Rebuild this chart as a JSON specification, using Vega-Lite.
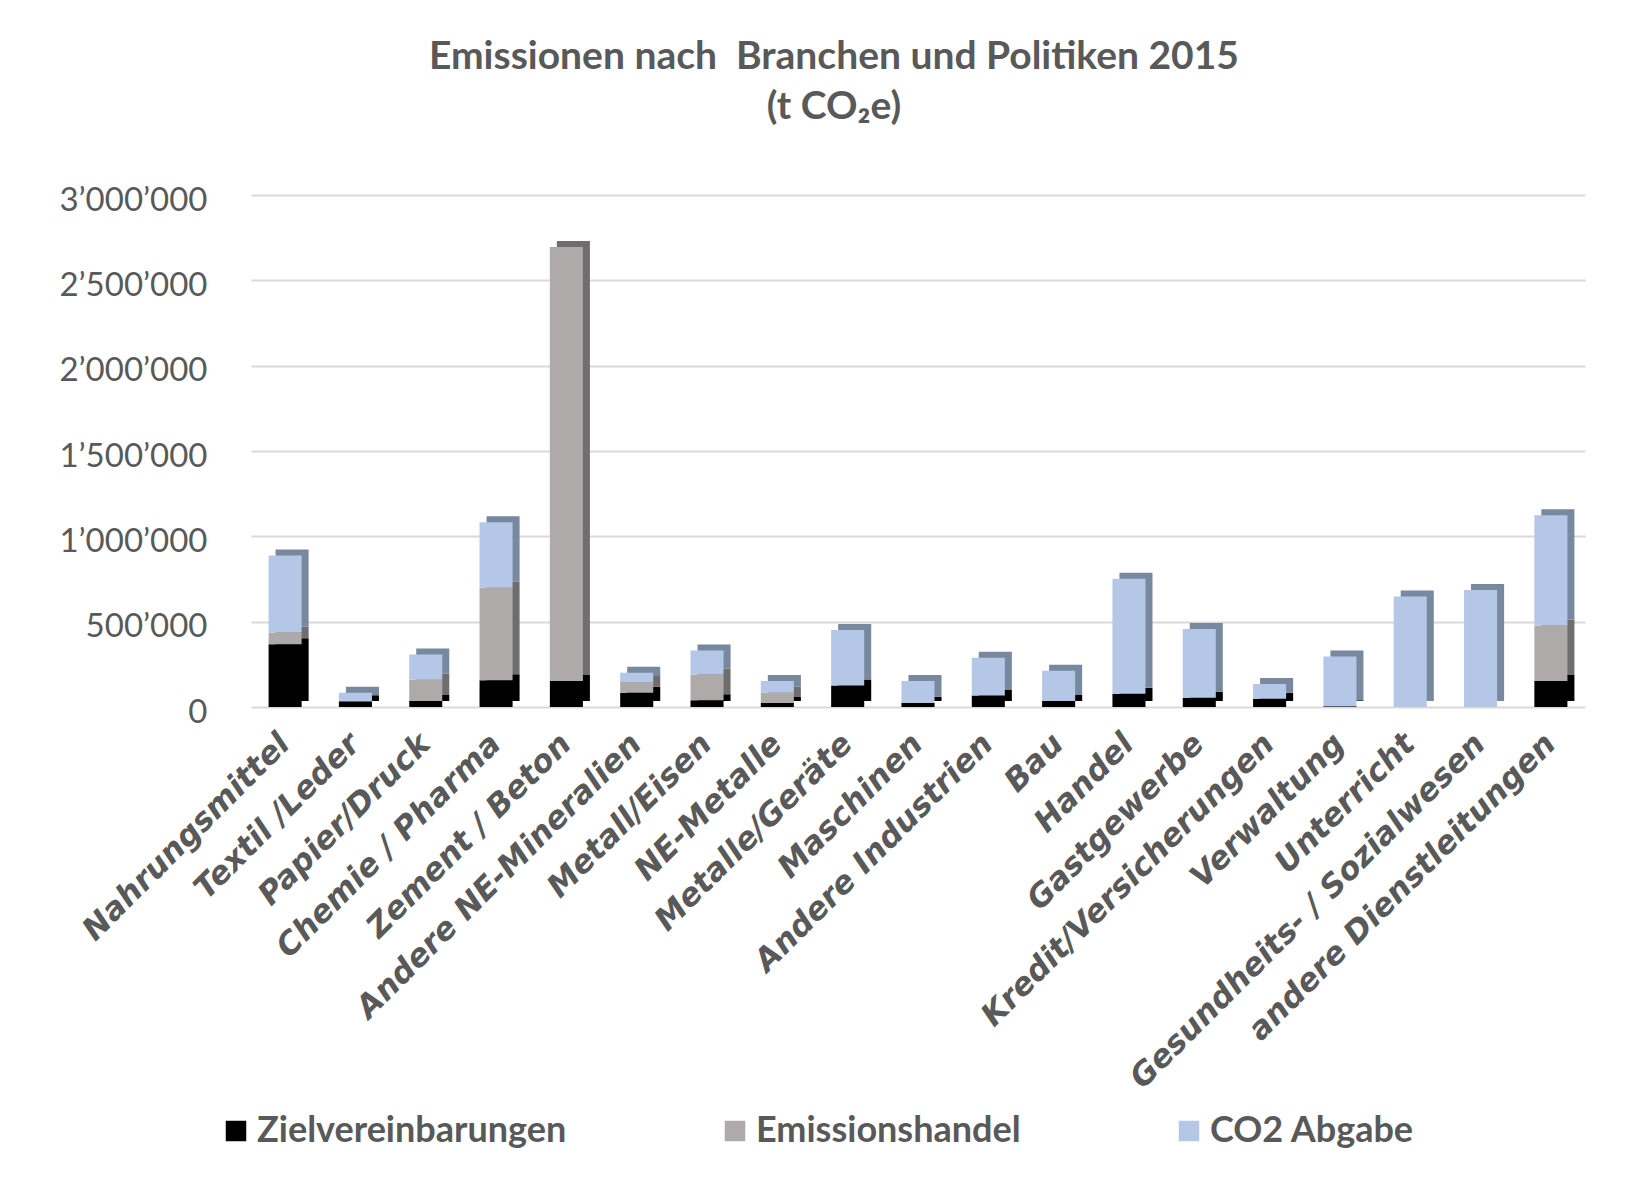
{
  "$schema": "https://vega.github.io/schema/vega-lite/v6.json",
  "width": 1334,
  "height": 512,
  "padding": {"left": 58, "top": 38, "right": 10, "bottom": 10},
  "background": "white",
  "title": {
    "text": ["Emissionen nach\u00a0 Branchen und Politiken 2015", "(t CO₂e)"],
    "font": "Lato",
    "fontSize": 39,
    "fontWeight": "bold",
    "color": "#595959",
    "lineHeight": 50,
    "anchor": "middle",
    "frame": "bounds",
    "offset": 57,
    "dx": 12
  },
  "data": {
    "values": [
      {"Branche": "Nahrungsmittel", "Politik": "Zielvereinbarungen", "ord": 1, "Wert": 368000},
      {"Branche": "Nahrungsmittel", "Politik": "Emissionshandel", "ord": 2, "Wert": 68000},
      {"Branche": "Nahrungsmittel", "Politik": "CO2 Abgabe", "ord": 3, "Wert": 451000},
      {"Branche": "Textil /Leder", "Politik": "Zielvereinbarungen", "ord": 1, "Wert": 33000},
      {"Branche": "Textil /Leder", "Politik": "Emissionshandel", "ord": 2, "Wert": 0},
      {"Branche": "Textil /Leder", "Politik": "CO2 Abgabe", "ord": 3, "Wert": 51000},
      {"Branche": "Papier/Druck", "Politik": "Zielvereinbarungen", "ord": 1, "Wert": 35000},
      {"Branche": "Papier/Druck", "Politik": "Emissionshandel", "ord": 2, "Wert": 125000},
      {"Branche": "Papier/Druck", "Politik": "CO2 Abgabe", "ord": 3, "Wert": 147000},
      {"Branche": "Chemie / Pharma", "Politik": "Zielvereinbarungen", "ord": 1, "Wert": 157000},
      {"Branche": "Chemie / Pharma", "Politik": "Emissionshandel", "ord": 2, "Wert": 541000},
      {"Branche": "Chemie / Pharma", "Politik": "CO2 Abgabe", "ord": 3, "Wert": 385000},
      {"Branche": "Zement / Beton", "Politik": "Zielvereinbarungen", "ord": 1, "Wert": 152000},
      {"Branche": "Zement / Beton", "Politik": "Emissionshandel", "ord": 2, "Wert": 2543000},
      {"Branche": "Zement / Beton", "Politik": "CO2 Abgabe", "ord": 3, "Wert": 0},
      {"Branche": "Andere NE-Mineralien", "Politik": "Zielvereinbarungen", "ord": 1, "Wert": 84000},
      {"Branche": "Andere NE-Mineralien", "Politik": "Emissionshandel", "ord": 2, "Wert": 62000},
      {"Branche": "Andere NE-Mineralien", "Politik": "CO2 Abgabe", "ord": 3, "Wert": 54000},
      {"Branche": "Metall/Eisen", "Politik": "Zielvereinbarungen", "ord": 1, "Wert": 39000},
      {"Branche": "Metall/Eisen", "Politik": "Emissionshandel", "ord": 2, "Wert": 152000},
      {"Branche": "Metall/Eisen", "Politik": "CO2 Abgabe", "ord": 3, "Wert": 140000},
      {"Branche": "NE-Metalle", "Politik": "Zielvereinbarungen", "ord": 1, "Wert": 23000},
      {"Branche": "NE-Metalle", "Politik": "Emissionshandel", "ord": 2, "Wert": 61000},
      {"Branche": "NE-Metalle", "Politik": "CO2 Abgabe", "ord": 3, "Wert": 68000},
      {"Branche": "Metalle/Geräte", "Politik": "Zielvereinbarungen", "ord": 1, "Wert": 126000},
      {"Branche": "Metalle/Geräte", "Politik": "Emissionshandel", "ord": 2, "Wert": 0},
      {"Branche": "Metalle/Geräte", "Politik": "CO2 Abgabe", "ord": 3, "Wert": 325000},
      {"Branche": "Maschinen", "Politik": "Zielvereinbarungen", "ord": 1, "Wert": 25000},
      {"Branche": "Maschinen", "Politik": "Emissionshandel", "ord": 2, "Wert": 0},
      {"Branche": "Maschinen", "Politik": "CO2 Abgabe", "ord": 3, "Wert": 127000},
      {"Branche": "Andere Industrien", "Politik": "Zielvereinbarungen", "ord": 1, "Wert": 68000},
      {"Branche": "Andere Industrien", "Politik": "Emissionshandel", "ord": 2, "Wert": 0},
      {"Branche": "Andere Industrien", "Politik": "CO2 Abgabe", "ord": 3, "Wert": 220000},
      {"Branche": "Bau", "Politik": "Zielvereinbarungen", "ord": 1, "Wert": 35000},
      {"Branche": "Bau", "Politik": "Emissionshandel", "ord": 2, "Wert": 0},
      {"Branche": "Bau", "Politik": "CO2 Abgabe", "ord": 3, "Wert": 177000},
      {"Branche": "Handel", "Politik": "Zielvereinbarungen", "ord": 1, "Wert": 78000},
      {"Branche": "Handel", "Politik": "Emissionshandel", "ord": 2, "Wert": 0},
      {"Branche": "Handel", "Politik": "CO2 Abgabe", "ord": 3, "Wert": 673000},
      {"Branche": "Gastgewerbe", "Politik": "Zielvereinbarungen", "ord": 1, "Wert": 54000},
      {"Branche": "Gastgewerbe", "Politik": "Emissionshandel", "ord": 2, "Wert": 0},
      {"Branche": "Gastgewerbe", "Politik": "CO2 Abgabe", "ord": 3, "Wert": 403000},
      {"Branche": "Kredit/Versicherungen", "Politik": "Zielvereinbarungen", "ord": 1, "Wert": 49000},
      {"Branche": "Kredit/Versicherungen", "Politik": "Emissionshandel", "ord": 2, "Wert": 0},
      {"Branche": "Kredit/Versicherungen", "Politik": "CO2 Abgabe", "ord": 3, "Wert": 86000},
      {"Branche": "Verwaltung", "Politik": "Zielvereinbarungen", "ord": 1, "Wert": 4000},
      {"Branche": "Verwaltung", "Politik": "Emissionshandel", "ord": 2, "Wert": 0},
      {"Branche": "Verwaltung", "Politik": "CO2 Abgabe", "ord": 3, "Wert": 292000},
      {"Branche": "Unterricht", "Politik": "Zielvereinbarungen", "ord": 1, "Wert": 0},
      {"Branche": "Unterricht", "Politik": "Emissionshandel", "ord": 2, "Wert": 0},
      {"Branche": "Unterricht", "Politik": "CO2 Abgabe", "ord": 3, "Wert": 648000},
      {"Branche": "Gesundheits- / Sozialwesen", "Politik": "Zielvereinbarungen", "ord": 1, "Wert": 0},
      {"Branche": "Gesundheits- / Sozialwesen", "Politik": "Emissionshandel", "ord": 2, "Wert": 0},
      {"Branche": "Gesundheits- / Sozialwesen", "Politik": "CO2 Abgabe", "ord": 3, "Wert": 685000},
      {"Branche": "andere Dienstleitungen", "Politik": "Zielvereinbarungen", "ord": 1, "Wert": 152000},
      {"Branche": "andere Dienstleitungen", "Politik": "Emissionshandel", "ord": 2, "Wert": 325000},
      {"Branche": "andere Dienstleitungen", "Politik": "CO2 Abgabe", "ord": 3, "Wert": 646000}
    ]
  },
  "encoding": {
    "x": {
      "field": "Branche",
      "type": "nominal",
      "sort": null,
      "scale": {"paddingInner": 0.53, "paddingOuter": 0.25},
      "axis": {
        "title": null,
        "labelAngle": -45,
        "labelAlign": "right",
        "labelBaseline": "middle",
        "labelFont": "DejaVu Sans",
        "labelFontSize": 31.5,
        "labelFontWeight": "bold",
        "labelFontStyle": "italic",
        "labelColor": "#595959",
        "labelPadding": 32,
        "labelLimit": 600,
        "domain": false,
        "ticks": false,
        "grid": false
      }
    },
    "y": {
      "field": "Wert",
      "type": "quantitative",
      "aggregate": "sum",
      "stack": "zero",
      "scale": {"domain": [0, 3000000], "nice": false},
      "axis": {
        "title": null,
        "values": [0, 500000, 1000000, 1500000, 2000000, 2500000, 3000000],
        "format": ",d",
        "labelFont": "Lato",
        "labelFontSize": 33,
        "labelColor": "#595959",
        "labelPadding": 44,
        "labelOffset": 5,
        "domain": false,
        "ticks": false,
        "grid": true,
        "gridColor": "#d9d9d9",
        "gridWidth": 2
      }
    },
    "order": {"field": "ord", "type": "quantitative"}
  },
  "layer": [
    {
      "mark": {"type": "bar", "xOffset": 7, "x2Offset": 7, "yOffset": -6, "y2Offset": -6},
      "encoding": {
        "color": {
          "field": "Politik",
          "type": "nominal",
          "sort": ["Zielvereinbarungen", "Emissionshandel", "CO2 Abgabe"],
          "scale": {"domain": ["Zielvereinbarungen", "Emissionshandel", "CO2 Abgabe"], "range": ["#000000", "#6f6d6d", "#78889f"]},
          "legend": null
        }
      }
    },
    {
      "mark": {"type": "bar"},
      "encoding": {
        "color": {
          "field": "Politik",
          "type": "nominal",
          "sort": ["Zielvereinbarungen", "Emissionshandel", "CO2 Abgabe"],
          "scale": {"domain": ["Zielvereinbarungen", "Emissionshandel", "CO2 Abgabe"], "range": ["#000000", "#aeaaaa", "#b4c7e7"]},
          "legend": {
            "title": null,
            "orient": "none",
            "direction": "horizontal",
            "legendX": -33,
            "legendY": 918,
            "symbolType": "square",
            "symbolSize": 420,
            "symbolStrokeWidth": 0,
            "labelFont": "Lato",
            "labelFontSize": 36,
            "labelFontWeight": "bold",
            "labelColor": "#595959",
            "labelOffset": 3,
            "labelLimit": 500,
            "columnPadding": 150
          }
        }
      }
    }
  ],
  "resolve": {"scale": {"color": "independent"}},
  "config": {
    "view": {"stroke": null},
    "locale": {"number": {"decimal": ".", "thousands": "’", "grouping": [3], "currency": ["", ""]}}
  }
}
